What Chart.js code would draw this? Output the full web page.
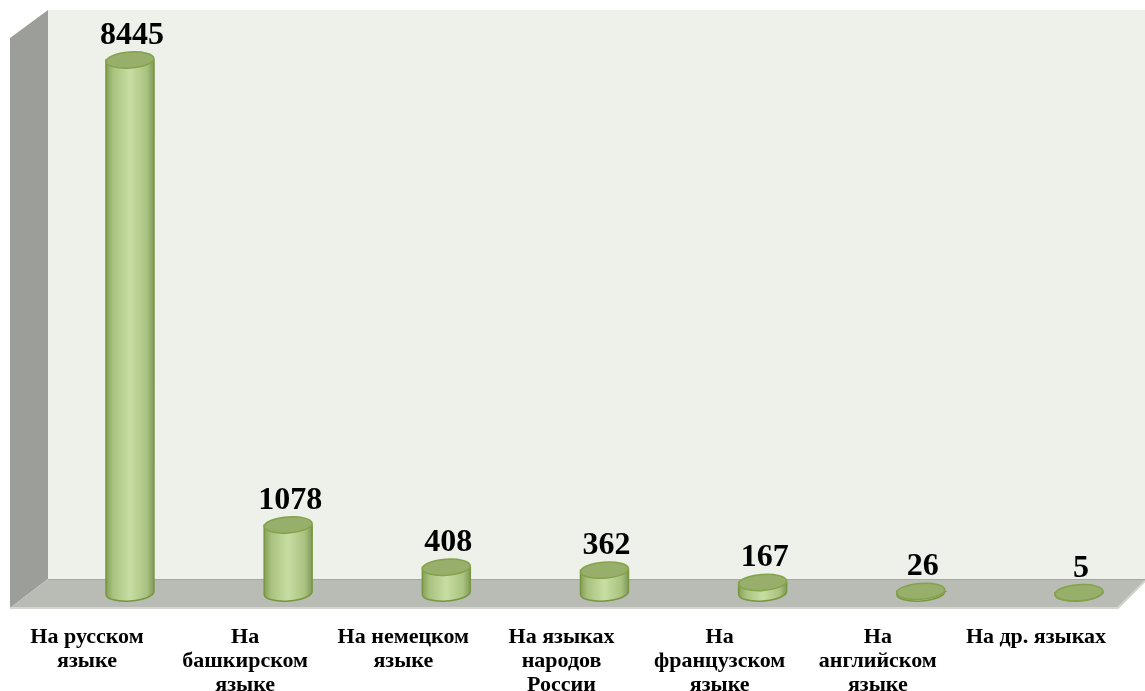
<!DOCTYPE html>
<html>
<head>
<meta charset="utf-8">
<script src="https://cdn.jsdelivr.net/npm/chart.js@4"></script>
<style>
  html, body { margin: 0; padding: 0; background: #fff; }
  #wrap { width: 1145px; height: 691px; }
</style>
</head>
<body>
<div id="wrap"><canvas id="langChart"></canvas></div>
<script>
const categories = [
  ["На русском", "языке"],
  ["На", "башкирском", "языке"],
  ["На немецком", "языке"],
  ["На языках", "народов", "России"],
  ["На", "французском", "языке"],
  ["На", "английском", "языке"],
  ["На др. языках"]
];
const values = [8445, 1078, 408, 362, 167, 26, 5];
const yMax = 9000;

// back wall, side wall and floor of the 3D box
const box3d = {
  id: 'box3d',
  beforeDatasetsDraw(chart) {
    const ctx = chart.ctx;
    const a = chart.chartArea;
    const base = chart.scales.y.getPixelForValue(0);
    const W = chart.width;
    const backY = base - 14, frontY = base + 15;
    const backX = a.left - 82, frontX = a.left - 120;
    const topY = 10;
    ctx.save();
    // back wall
    ctx.fillStyle = '#eef1ea';
    ctx.fillRect(backX, topY, W - backX, backY - topY);
    // side wall
    ctx.fillStyle = '#9c9f99';
    ctx.beginPath();
    ctx.moveTo(frontX, topY + 28);
    ctx.lineTo(backX, topY);
    ctx.lineTo(backX, backY);
    ctx.lineTo(frontX, frontY);
    ctx.closePath();
    ctx.fill();
    // floor
    ctx.fillStyle = '#b9bbb5';
    ctx.beginPath();
    ctx.moveTo(backX, backY);
    ctx.lineTo(W, backY);
    ctx.lineTo(W, backY + 2);
    ctx.lineTo(W - 27, frontY);
    ctx.lineTo(frontX, frontY);
    ctx.closePath();
    ctx.fill();
    ctx.strokeStyle = '#a5a8a1';
    ctx.lineWidth = 1;
    ctx.beginPath();
    ctx.moveTo(backX, backY + 0.5);
    ctx.lineTo(W, backY + 0.5);
    ctx.stroke();
    ctx.strokeStyle = '#d4d6d0';
    ctx.lineWidth = 2;
    ctx.beginPath();
    ctx.moveTo(frontX, frontY);
    ctx.lineTo(W - 27, frontY);
    ctx.lineTo(W, backY + 2);
    ctx.stroke();
    ctx.restore();
  }
};

// turn each bar element into a cylinder and put its value above it
const cylinders = {
  id: 'cylinders',
  afterDatasetsDraw(chart) {
    const ctx = chart.ctx;
    const meta = chart.getDatasetMeta(0);
    const ry = 8, rot = -0.07;
    ctx.save();
    meta.data.forEach((bar, i) => {
      const x = bar.x, top = bar.y, base = bar.base;
      const rx = bar.width / 2;
      const grad = ctx.createLinearGradient(x - rx, 0, x + rx, 0);
      grad.addColorStop(0, '#879f57');
      grad.addColorStop(0.15, '#a9c27f');
      grad.addColorStop(0.5, '#c8dda3');
      grad.addColorStop(0.85, '#a9c27f');
      grad.addColorStop(1, '#82995a');
      // body + bottom half ellipse
      ctx.beginPath();
      ctx.moveTo(x - rx, top);
      ctx.lineTo(x - rx, base);
      ctx.ellipse(x, base, rx, ry, rot, Math.PI, 0, true);
      ctx.lineTo(x + rx, top);
      ctx.closePath();
      ctx.fillStyle = grad;
      ctx.fill();
      ctx.strokeStyle = '#76963f';
      ctx.lineWidth = 1.5;
      ctx.stroke();
      // top cap
      ctx.beginPath();
      ctx.ellipse(x, top, rx, ry, rot, 0, Math.PI * 2);
      ctx.fillStyle = '#97af6b';
      ctx.fill();
      ctx.strokeStyle = '#83a34b';
      ctx.lineWidth = 1.5;
      ctx.stroke();
      // value label
      ctx.fillStyle = '#000';
      ctx.font = 'bold 32px "Liberation Serif", "Times New Roman", serif';
      ctx.textAlign = 'center';
      ctx.textBaseline = 'alphabetic';
      ctx.fillText(String(values[i]), x + 2, top - 16);
    });
    ctx.restore();
  }
};

new Chart(document.getElementById('langChart'), {
  type: 'bar',
  data: {
    labels: categories,
    datasets: [{
      data: values,
      backgroundColor: 'rgba(0,0,0,0)',
      borderWidth: 0,
      barThickness: 48
    }]
  },
  options: {
    responsive: true,
    maintainAspectRatio: false,
    animation: false,
    layout: { padding: { top: 25, left: 130, right: 66, bottom: 0 } },
    plugins: {
      legend: { display: false },
      tooltip: { enabled: false }
    },
    scales: {
      x: {
        offset: false,
        grid: { display: false },
        border: { display: false },
        ticks: {
          autoSkip: false,
          maxRotation: 0,
          minRotation: 0,
          labelOffset: -43,
          padding: 24,
          color: '#000',
          font: { family: '"Liberation Serif", "Times New Roman", serif', size: 22, weight: 'bold', lineHeight: 1.1 }
        },
        afterFit(scale) {
          scale.height = 98;
          scale.paddingLeft = 0;
          scale.paddingRight = 0;
        }
      },
      y: {
        display: false,
        min: 0,
        max: yMax
      }
    }
  },
  plugins: [box3d, cylinders]
});
</script>
</body>
</html>
